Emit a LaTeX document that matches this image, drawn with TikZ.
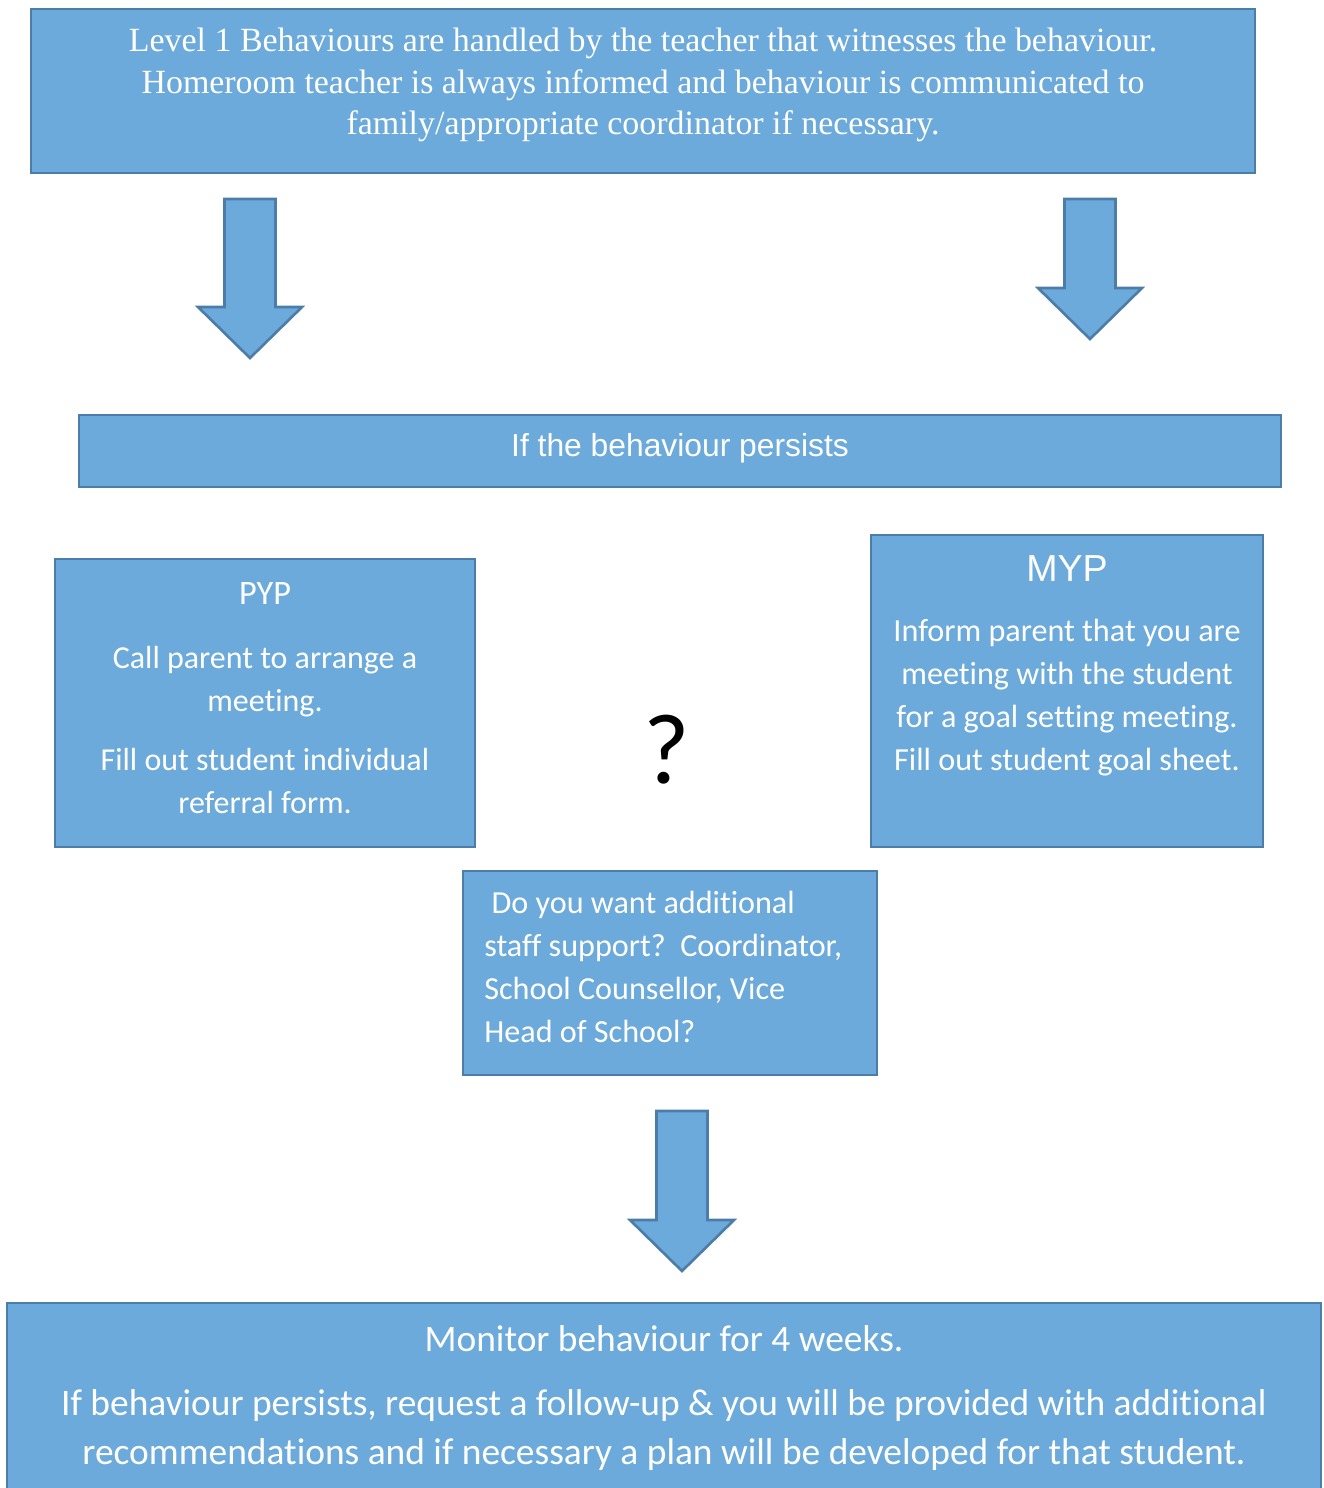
\documentclass[tikz,border=0pt]{standalone}
\usepackage{fontspec}
\setmainfont{Carlito}[Ligatures=NoCommon]
\newfontfamily\cambria{Liberation Serif}
\newfontfamily\arial{Liberation Sans}
\usetikzlibrary{positioning}

\definecolor{boxblue}{RGB}{108,170,219}
\definecolor{edgeblue}{RGB}{76,124,168}

\tikzset{
  box/.style={draw=edgeblue,fill=boxblue,line width=1.5pt,inner sep=0pt},
  txt/.style={text=white,inner sep=0pt,align=center},
}

% block arrow pointing down: x centre, top of shaft, tip
\newcommand{\downblock}[3]{%
  \filldraw[fill=boxblue,draw=edgeblue,line width=1.5pt]
    (#1-25.5,#2) -- (#1+25.5,#2) -- (#1+25.5,#3-51) -- (#1+52,#3-51)
    -- (#1,#3) -- (#1-52,#3-51) -- (#1-25.5,#3-51) -- cycle;}

\begin{document}
\begin{tikzpicture}[x=0.02cm,y=-0.02cm]
  \useasboundingbox (0,0) rectangle (1324,1488);

  % boxes
  \draw[box] (31,9) rectangle (1255,173);
  \node[txt,font=\cambria\fontsize{19.3}{23.8}\selectfont] (lvl) at (643,85)
    {Level 1 Behaviours are handled by the teacher that witnesses the behaviour.\\
     Homeroom teacher is always informed and behaviour is communicated to\\
     family/appropriate coordinator if necessary.};

  \downblock{250}{199}{358}
  \downblock{1090}{199}{339}

  \draw[box] (79,415) rectangle (1281,487);
  \node[txt,font=\arial\fontsize{18.1}{20}\selectfont] (persist) at (680,448) {If the behaviour persists};

  \draw[box] (55,559) rectangle (475,847);
  \node[txt,font=\fontsize{18.2}{24.4}\selectfont] (pyp) at (265,698)
    {{\fontsize{19.5}{24.4}\selectfont PYP}\\[12pt]
     Call parent to arrange a\\ meeting.\\[9pt]
     Fill out student individual\\ referral form.};

  \draw[box] (871,535) rectangle (1263,847);
  \node[txt,font=\arial\fontsize{21.4}{24}\selectfont] (myp) at (1067,569) {MYP};
  \node[txt,font=\fontsize{18.3}{24.4}\selectfont] (mypt) at (1067,697.5)
    {Inform parent that you are\\ meeting with the student\\
     for a goal setting meeting.\\ Fill out student goal sheet.};

  \node[font=\fontsize{57}{60}\selectfont,inner sep=0pt] (q) at (667,750) {?};

  \draw[box] (463,871) rectangle (877,1075);
  \node[txt,align=left,anchor=west,font=\fontsize{18.3}{24.4}\selectfont] (help) at (484,967)
    {\ Do you want additional\\ staff support?\ \ Coordinator,\\
     School Counsellor, Vice\\ Head of School?};

  \downblock{682}{1111}{1271}

  \draw[box] (7,1303) rectangle (1321,1500);
  \node[txt,font=\fontsize{21.3}{27.8}\selectfont] (mon) at (664,1398)
    {Monitor behaviour for 4 weeks.\\[9pt]
     If behaviour persists, request a follow-up \& you will be provided with additional\\
     recommendations and if necessary a plan will be developed for that student.};
\end{tikzpicture}
\end{document}
